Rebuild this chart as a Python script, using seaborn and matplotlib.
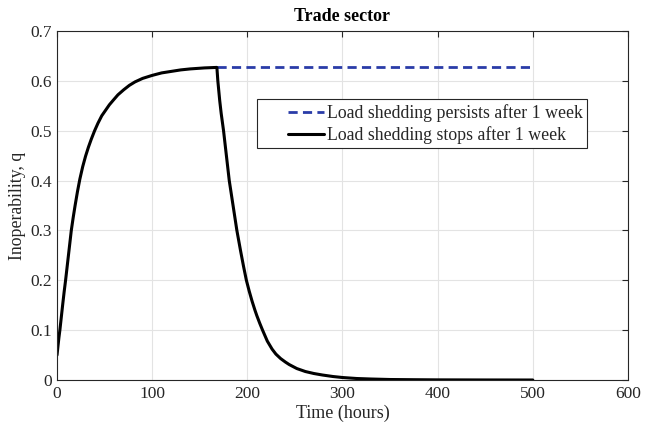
import matplotlib
matplotlib.use("Agg")
import matplotlib.pyplot as plt
from matplotlib.patches import Rectangle
import numpy as np
import pandas as pd
import seaborn as sns

# ---- data ----
rise_t = [0, 1, 2, 3, 4.5, 6, 7.5, 9, 10.5, 12, 13.5, 15, 17, 19, 21.5, 24, 27, 30, 33, 36,
          39.5, 43, 47, 51, 55, 59, 64, 70, 76, 82, 90, 100, 110, 120, 130, 140, 155, 168]
rise_q = [0.05, 0.068, 0.085, 0.1, 0.126, 0.152, 0.177, 0.2, 0.225, 0.25, 0.275, 0.3, 0.326,
          0.35, 0.378, 0.403, 0.428, 0.449, 0.467, 0.483, 0.5, 0.515, 0.53, 0.541, 0.552, 0.561,
          0.572, 0.582, 0.591, 0.598, 0.605, 0.611, 0.616, 0.619, 0.622, 0.624, 0.626, 0.627]

decay_t = [168, 169, 171, 172.5, 175, 178, 181, 185, 189, 193, 196, 199, 202, 205, 208, 210,
           213, 216, 221, 226, 230, 235, 240, 244, 252, 261, 270, 279, 290, 300, 315, 330, 350,
           375, 400, 450, 500]
decay_q = [0.627, 0.6, 0.56, 0.535, 0.5, 0.45, 0.4, 0.35, 0.3, 0.258, 0.228, 0.2, 0.178, 0.158,
           0.14, 0.129, 0.114, 0.1, 0.078, 0.062, 0.052, 0.043, 0.036, 0.031, 0.023, 0.017, 0.013,
           0.01, 0.007, 0.005, 0.003, 0.002, 0.001, 0.0006, 0.0003, 0.0001, 0.0]

persist_t = [168, 500]
persist_q = [0.627, 0.627]

labels = ["Load shedding persists after 1 week", "Load shedding stops after 1 week"]
x_ticks = [0, 100, 200, 300, 400, 500, 600]
y_ticks = [0, 0.1, 0.2, 0.3, 0.4, 0.5, 0.6, 0.7]

stops_t = rise_t + decay_t[1:]
stops_q = rise_q + decay_q[1:]

df_persist = pd.DataFrame({"t": persist_t, "q": persist_q})
df_stops = pd.DataFrame({"t": stops_t, "q": stops_q})

sns.set_theme(style="white")
plt.rcParams["font.family"] = ["Liberation Serif", "DejaVu Serif"]

fig = plt.figure(figsize=(6.45, 4.29), dpi=100)
ax = fig.add_axes([0.0884, 0.1142, 0.8852, 0.8135])

sns.lineplot(data=df_persist, x="t", y="q", ax=ax, color="#2a3ca8", lw=2.0,
             linestyle=(0, (3.3, 1.9)), label=labels[0], sort=False)
sns.lineplot(data=df_stops, x="t", y="q", ax=ax, color="black", lw=2.2,
             label=labels[1], sort=False)
for ln in ax.get_lines():
    ln.set_solid_joinstyle("round")

ax.set_xlim(0, 600)
ax.set_ylim(0, 0.7)
ax.set_xticks(x_ticks)
ax.set_yticks(y_ticks)
ax.set_xticklabels([str(v) for v in x_ticks])
ax.set_yticklabels(["0"] + [f"{v:.1f}" for v in y_ticks[1:]])
ax.tick_params(direction="in", length=4, width=0.8, colors="#262626", labelsize=12.5,
               top=True, right=True, labelcolor="#262626")
ax.tick_params(axis="x", pad=4)
ax.grid(True, color="#e3e3e3", lw=0.8)
for s in ax.spines.values():
    s.set_visible(True)
    s.set_color("#262626")
    s.set_linewidth(0.8)

ax.set_xlabel("Time (hours)", fontsize=13, color="#262626", labelpad=2)
ax.set_ylabel("Inoperability, q", fontsize=12.8, color="#262626", labelpad=3)
ax.set_title("Trade sector", fontsize=13, fontweight="bold", color="black", pad=7)

# MATLAB-style legend box (handles inset from the left edge)
box = Rectangle((0.350, 0.666), 0.578, 0.138, transform=ax.transAxes, facecolor="white",
                edgecolor="#262626", lw=0.8, zorder=4)
ax.add_patch(box)
leg = ax.legend(loc="upper left", bbox_to_anchor=(0.4046, 0.790), borderaxespad=0,
                fontsize=12.8, frameon=False, handlelength=2.0, handletextpad=0.2,
                borderpad=0, labelspacing=0.25)
leg.set_zorder(5)

fig.savefig("out.png", dpi=100)
